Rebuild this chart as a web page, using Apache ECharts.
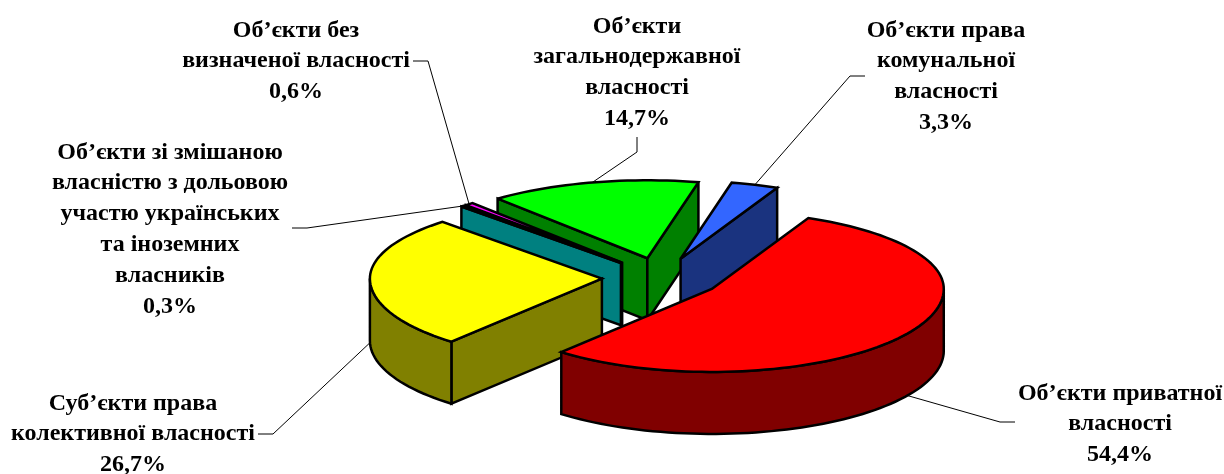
<!DOCTYPE html>
<html><head><meta charset="utf-8">
<style>html,body{margin:0;padding:0;background:#fff}#c{width:1224px;height:474px}</style>
<script src="https://cdn.jsdelivr.net/npm/echarts@6/dist/echarts.min.js"></script>
</head><body><div id="c"></div>
<script>
// Chart data (clockwise, in the original order)
const categories = [
  "Об’єкти приватної\nвласності",
  "Суб’єкти права\nколективної власності",
  "Об’єкти зі змішаною\nвласністю з дольовою\nучастю українських\nта іноземних\nвласників",
  "Об’єкти без\nвизначеної власності",
  "Об’єкти\nзагальнодержавної\nвласності",
  "Об’єкти права\nкомунальної\nвласності"
];
const values = [54.4, 26.7, 0.3, 0.6, 14.7, 3.3];
const valueLabels = ["54,4%", "26,7%", "0,3%", "0,6%", "14,7%", "3,3%"];
const topColors = ["#FF0000", "#FFFF00", "#00FFFF", "#FF00FF", "#00FF00", "#3366FF"];
const wallColors = ["#800000", "#808000", "#008080", "#800080", "#008000", "#1A337F"];

// Layout of the pseudo-3D pie (ryBack/ryFront: slight foreshortening of the far half)
const pie = {cx: 661.5, cy: 278, rx: 232, ryBack: 78, ryFront: 83, ryExplode: 79, depth: 62, explode: 0.257, startAngle: 24.6};
// slices painted back to front
const drawOrder = [4, 5, 3, 2, 1, 0];
// label centre x, top y, then label-side leader points
const labelLayout = [
  {x: 1120, y: 378, leader: [[1000, 422], [1015, 422]]},
  {x: 133,  y: 388, leader: [[273, 434], [258, 434]]},
  {x: 170,  y: 137, leader: [[307, 228], [292, 228]]},
  {x: 296,  y: 15,  leader: [[428, 61], [413, 61]]},
  {x: 637,  y: 11,  leader: [[637, 152], [637, 137]]},
  {x: 946,  y: 15,  leader: [[850, 76], [865, 76]]}
];
const FONT = 'bold 24px "Liberation Serif","Times New Roman",serif';
const LINE_H = 30.8;

const total = values.reduce((a, b) => a + b, 0);
const starts = [];
values.reduce((acc, v, i) => { starts[i] = acc; return acc + v; }, 0);

function pt(ox, oy, deg, ry) {
  const a = deg * Math.PI / 180, c = Math.cos(a);
  return [ox + pie.rx * Math.sin(a), oy - (c > 0 ? pie.ryBack : pie.ryFront) * c];
}
function centre(mid) {
  const a = mid * Math.PI / 180;
  return [pie.cx + pie.explode * pie.rx * Math.sin(a), pie.cy - pie.explode * pie.ryExplode * Math.cos(a)];
}
function arc(ox, oy, a0, a1) {
  const pts = [], n = Math.max(2, Math.ceil(Math.abs(a1 - a0) / 2));
  for (let i = 0; i <= n; i++) pts.push(pt(ox, oy, a0 + (a1 - a0) * i / n));
  return pts;
}
const down = (pts) => pts.map(p => [p[0], p[1] + pie.depth]);
const visibleFacing = (deg) => Math.cos(deg * Math.PI / 180) < 0;

function renderItem(params, api) {
  const i = api.value(2);
  const v = api.value(0), st = api.value(1);
  const a0 = pie.startAngle + st / total * 360;
  const a1 = a0 + v / total * 360;
  const mid = (a0 + a1) / 2;
  const [ox, oy] = centre(mid);
  const children = [];
  const line = {stroke: '#000', lineWidth: 2.5, lineJoin: 'miter', miterLimit: 3};
  const poly = (points, fill) => children.push({type: 'polygon', shape: {points}, style: Object.assign({fill}, line)});

  const apex = [ox, oy];
  // radial walls
  if (visibleFacing(a0 - 90)) { const e = pt(ox, oy, a0); poly([apex, e, [e[0], e[1] + pie.depth], [ox, oy + pie.depth]], wallColors[i]); }
  if (visibleFacing(a1 + 90)) { const e = pt(ox, oy, a1); poly([apex, e, [e[0], e[1] + pie.depth], [ox, oy + pie.depth]], wallColors[i]); }
  // outer curved wall: front half only (90..270 degrees)
  for (const k of [0, 360]) {
    const w0 = Math.max(a0, 90 + k), w1 = Math.min(a1, 270 + k);
    if (w1 > w0) { const t = arc(ox, oy, w0, w1); poly(t.concat(down(t).reverse()), wallColors[i]); }
  }
  // top face
  poly([apex].concat(arc(ox, oy, a0, a1)), topColors[i]);
  return {type: 'group', children};
}

function renderLabel(params, api) {
  const i = api.value(2);
  const v = api.value(0), st = api.value(1);
  const a0 = pie.startAngle + st / total * 360;
  const mid = a0 + v / total * 180;
  const [ox, oy] = centre(mid);
  let anchor = pt(ox, oy, mid);
  if (visibleFacing(mid)) anchor[1] += pie.depth;
  const L = labelLayout[i];
  return {type: 'group', children: [
    {type: 'polyline', shape: {points: [anchor].concat(L.leader)}, style: {stroke: '#000', lineWidth: 1, fill: null}},
    {type: 'text', style: {x: L.x, y: L.y, text: categories[i] + '\n' + valueLabels[i], font: FONT, fill: '#000',
      align: 'center', verticalAlign: 'top', lineHeight: LINE_H}}
  ]};
}

const chart = echarts.init(document.getElementById('c'), null, {renderer: 'canvas'});
const seriesData = drawOrder.map(i => [values[i], starts[i], i]);
chart.setOption({
  animation: false,
  backgroundColor: '#fff',
  series: [
    {type: 'custom', coordinateSystem: 'none', renderItem: renderLabel, silent: true, z: 1, data: seriesData},
    {type: 'custom', coordinateSystem: 'none', renderItem, silent: true, z: 2, data: seriesData}
  ]
});
</script></body></html>
